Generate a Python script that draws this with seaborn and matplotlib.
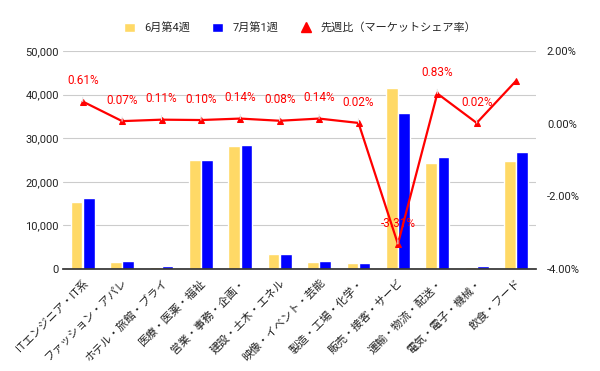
import matplotlib
matplotlib.use("Agg")
import matplotlib.pyplot as plt
from matplotlib.lines import Line2D
from matplotlib.patches import Patch
import numpy as np
import pandas as pd
import seaborn as sns

categories = [
    "ITエンジニア・IT系", "ファッション・アパレ", "ホテル・旅館・ブライ", "医療・医薬・福祉",
    "営業・事務・企画・", "建設・土木・エネル", "映像・イベント・芸能", "製造・工場・化学・",
    "販売・接客・サービ", "運輸・物流・配送・", "電気・電子・機械・", "飲食・フード",
]
week_june4 = [15300, 1600, 550, 25000, 28200, 3500, 1700, 1450, 41450, 24250, 550, 24800]
week_july1 = [16300, 1850, 750, 25000, 28450, 3500, 1900, 1400, 35800, 25600, 750, 26850]
share_change = [0.61, 0.07, 0.11, 0.10, 0.14, 0.08, 0.14, 0.02, -3.31, 0.83, 0.02, 1.18]
share_labels = ["0.61%", "0.07%", "0.11%", "0.10%", "0.14%", "0.08%", "0.14%", "0.02%",
                "-3.31%", "0.83%", "0.02%", ""]
series_names = ["6月第4週", "7月第1週"]
line_name = "先週比（マーケットシェア率）"

sns.set_theme(style="white")
plt.rcParams["font.family"] = ["Roboto", "Noto Sans CJK JP", "DejaVu Sans"]

df = pd.DataFrame({
    "category": categories * 2,
    "value": week_june4 + week_july1,
    "week": [series_names[0]] * len(categories) + [series_names[1]] * len(categories),
})
palette = {series_names[0]: "#FFD966", series_names[1]: "#0000FF"}

fig = plt.figure(figsize=(6, 3.71), dpi=100)
ax = fig.add_axes([0.105, 0.275, 0.788, 0.5875])
sns.barplot(data=df, x="category", y="value", hue="week", palette=palette,
            width=0.62, gap=0.06, ax=ax, legend=False, saturation=1)
ax.set_ylim(0, 50000)
ax.set_yticks(range(0, 50001, 10000))
ax.set_yticklabels([f"{v:,}" for v in range(0, 50001, 10000)], fontsize=8, color="#222222")
ax.yaxis.grid(True, color="#cccccc", lw=0.8)
ax.set_axisbelow(True)
ax.set_xlabel("")
ax.set_ylabel("")
ax.set_xlim(-0.5, len(categories) - 0.5)
ax.set_xticks(range(len(categories)))
ax.set_xticklabels(categories, rotation=45, ha="right", rotation_mode="anchor",
                   fontsize=8, color="#222222")
for s in ["top", "right", "left"]:
    ax.spines[s].set_visible(False)
ax.spines["bottom"].set_color("#333333")
ax.tick_params(axis="x", length=0, pad=6)
ax.tick_params(axis="y", length=0, pad=3)

ax2 = ax.twinx()
x_pos = np.arange(len(categories))
sns.lineplot(x=x_pos, y=share_change, ax=ax2, color="#FF0000", lw=1.6,
             marker="^", markersize=4, markeredgecolor="#FF0000")
ax2.set_ylim(-4, 2)
ax2.set_yticks([2, 0, -2, -4])
ax2.set_yticklabels([f"{v:.2f}%" for v in [2, 0, -2, -4]], fontsize=8, color="#222222")
ax2.tick_params(axis="y", length=0, pad=8)
for s in ax2.spines.values():
    s.set_visible(False)
ax2.grid(False)
for xi, yi, lab in zip(x_pos, share_change, share_labels):
    if not lab:
        continue
    ax2.annotate(lab, xy=(xi, yi), xytext=(0, 15), textcoords="offset points",
                 ha="center", va="center", fontsize=8.5, color="#FF0000",
                 arrowprops=dict(arrowstyle="-", color="#e6e6e6", lw=0.8,
                                 shrinkA=5, shrinkB=0))

handles = [
    Patch(facecolor=palette[series_names[0]], label=series_names[0]),
    Patch(facecolor=palette[series_names[1]], label=series_names[1]),
    Line2D([], [], color="#FF0000", marker="^", lw=0, markersize=7, label=line_name),
]
fig.legend(handles=handles, loc="center", bbox_to_anchor=(0.5, 0.925), ncol=3,
           frameon=False, fontsize=8, handlelength=1.0, handleheight=1.0,
           columnspacing=2.0, handletextpad=0.8)

fig.savefig("out.png", dpi=100)
